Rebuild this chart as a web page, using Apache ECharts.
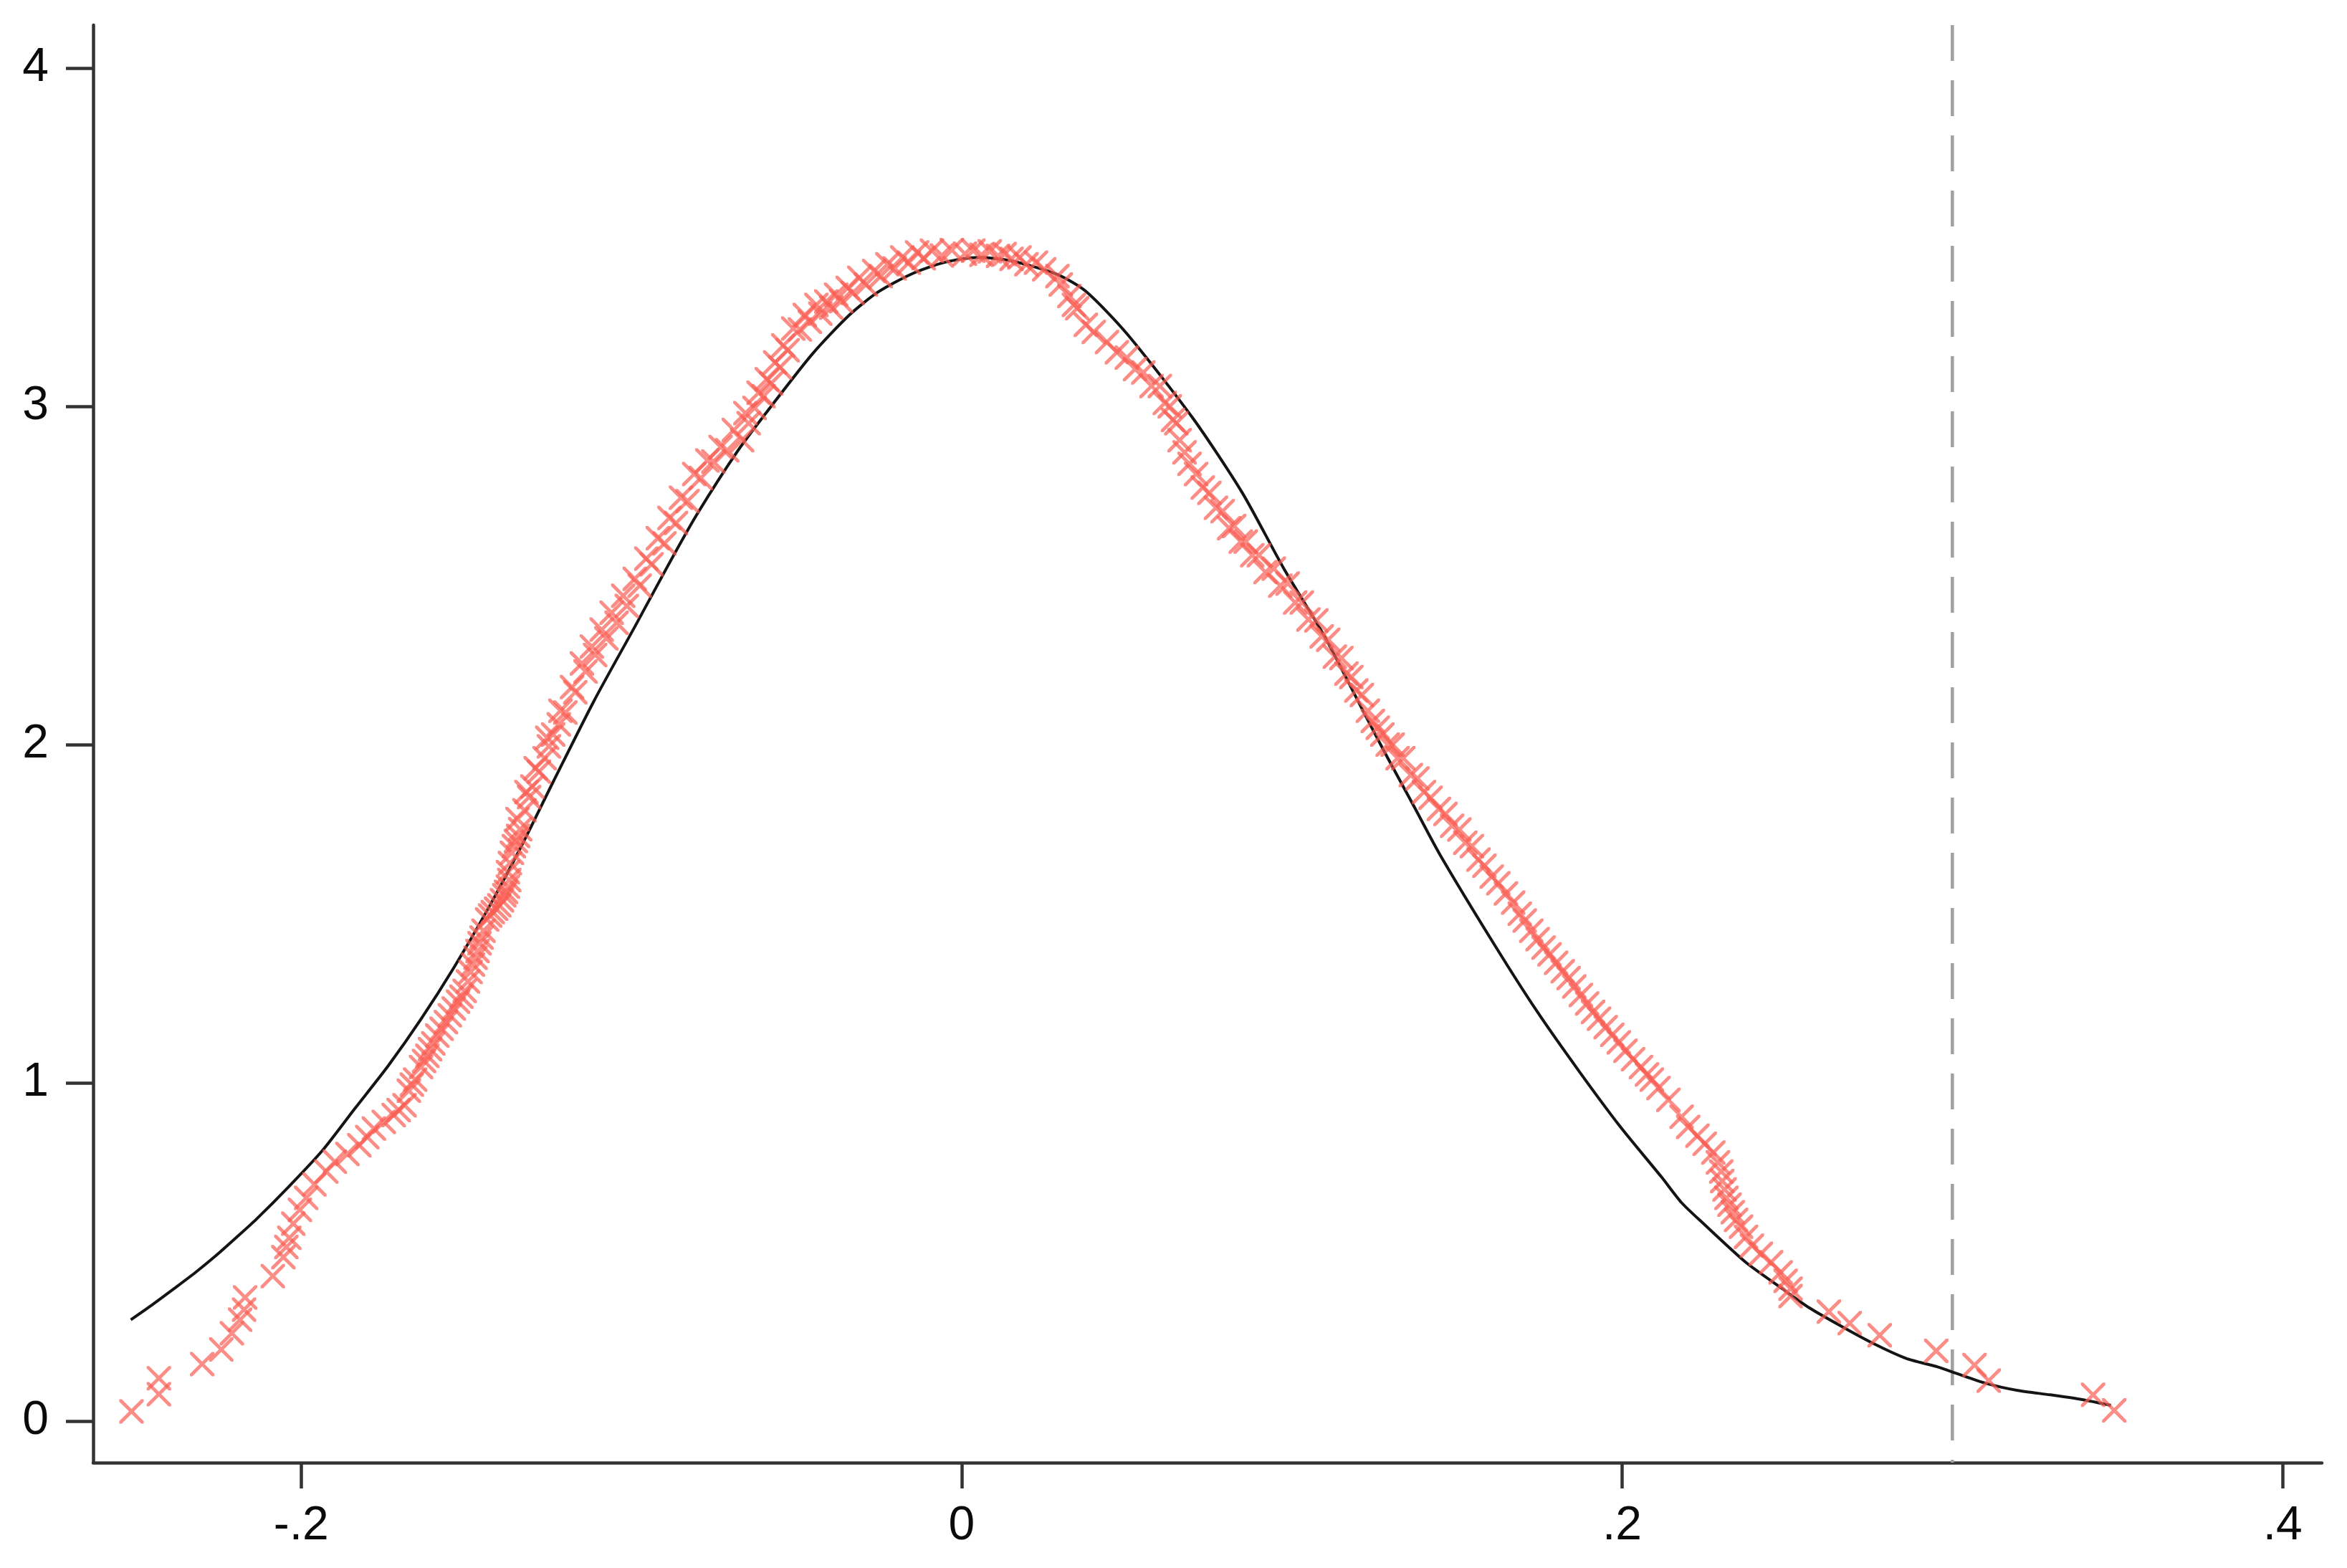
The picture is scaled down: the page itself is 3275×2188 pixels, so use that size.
<!DOCTYPE html>
<html><head><meta charset="utf-8">
<script src="https://cdn.jsdelivr.net/npm/echarts@6/dist/echarts.min.js"></script>
<style>html,body{margin:0;padding:0;background:#fff}#c{width:3275px;height:2188px}</style>
</head><body><div id="c"></div>
<script>
// ---- data ----
const xTicks = [-0.2, 0, 0.2, 0.4];
const yTicks = [0, 1, 2, 3, 4];
const refLineX = 0.3;

// black density curve
const curveX = [-0.2516,-0.245,-0.2385,-0.232,-0.226,-0.22,-0.2136,-0.2036,-0.1936,-0.1837,-0.1737,-0.1637,-0.1537,-0.1437,-0.1337,-0.1237,-0.1113,-0.0989,-0.0889,-0.0802,-0.0677,-0.0577,-0.0452,-0.034,-0.0253,-0.015,-0.005,0.005,0.015,0.0289,0.0376,0.05,0.07,0.085,0.0974,0.11,0.121,0.128,0.137,0.145,0.162,0.1744,0.187,0.1994,0.2119,0.218,0.2243,0.2374,0.248,0.2567,0.2665,0.2762,0.2859,0.2957,0.301,0.3102,0.3198,0.3296,0.3393,0.348];
const curveY = [0.300,0.345,0.392,0.440,0.488,0.540,0.597,0.695,0.800,0.925,1.050,1.189,1.342,1.510,1.693,1.890,2.130,2.350,2.530,2.680,2.870,3.000,3.155,3.270,3.338,3.392,3.426,3.440,3.430,3.390,3.340,3.215,2.965,2.744,2.523,2.318,2.110,1.979,1.817,1.672,1.398,1.209,1.034,0.871,0.722,0.646,0.587,0.470,0.395,0.335,0.280,0.229,0.186,0.160,0.142,0.112,0.091,0.078,0.064,0.047];

// red "x" markers
const markX = [-0.2514,-0.2431,-0.2431,-0.2300,-0.2242,-0.2210,-0.2185,-0.2173,-0.2170,-0.2086,-0.2054,-0.2045,-0.2036,-0.2024,-0.2004,-0.1985,-0.1924,-0.1898,-0.1824,-0.1780,-0.1720,-0.1687,-0.1674,-0.1655,-0.1637,-0.1618,-0.1600,-0.1575,-0.1550,-0.1525,-0.1505,-0.1487,-0.1472,-0.1460,-0.1448,-0.1437,-0.1420,-0.1400,-0.1385,-0.1374,-0.1374,-0.1362,-0.1350,-0.1337,-0.1324,-0.1310,-0.1300,-0.1280,-0.1263,-0.1250,-0.1237,-0.1220,-0.1200,-0.1170,-0.1139,-0.1110,-0.1076,-0.1045,-0.1014,-0.0975,-0.0939,-0.0900,-0.0865,-0.0830,-0.0790,-0.0752,-0.0710,-0.0665,-0.0645,-0.0627,-0.0600,-0.0577,-0.0550,-0.0527,-0.0490,-0.0460,-0.0428,-0.0395,-0.0365,-0.0330,-0.0290,-0.0245,-0.0203,-0.0160,-0.0115,-0.0060,0.0010,0.0060,0.0110,0.0151,0.0196,0.0250,0.0290,0.0326,0.0350,0.0376,0.0440,0.0500,0.0550,0.0600,0.0630,0.0650,0.0675,0.0710,0.0750,0.0790,0.0825,0.0860,0.0900,0.0945,0.0987,0.1030,0.1074,0.1110,0.1150,0.1180,0.1212,0.1245,0.1274,0.1305,0.1337,0.1380,0.1420,0.1465,0.1507,0.1545,0.1583,0.1625,0.1670,0.1705,0.1744,0.1780,0.1820,0.1855,0.1894,0.1930,0.1970,0.2010,0.2057,0.2090,0.2110,0.2140,0.2180,0.2200,0.2228,0.2250,0.2276,0.2290,0.2300,0.2303,0.2310,0.2316,0.2325,0.2335,0.2345,0.2360,0.2375,0.2393,0.2420,0.2451,0.2480,0.2495,0.2510,0.2510,0.2626,0.2689,0.2780,0.2951,0.3067,0.3110,0.3426,0.3490,
  -0.1345,-0.1318,-0.1290,-0.1255,-0.1215,-0.1180,-0.1150,-0.1120,-0.1090,-0.1060,-0.1025,-0.0990,-0.0955,-0.0920,-0.0885,-0.0850,-0.0810,-0.0770,-0.0730,-0.0690,-0.0655,-0.0615,-0.0590,-0.0565,-0.0540,-0.0510,-0.0475,-0.0440,-0.0410,-0.0380,-0.0345,-0.0310,-0.0265,-0.0225,-0.0180,-0.0135,-0.0090,-0.0030,0.0035,0.0085,0.0130,0.0175,0.0225,
  0.0300,0.0340,0.0400,0.0470,0.0525,0.0575,0.0615,0.0640,0.0660,0.0690,0.0730,0.0770,0.0810,0.0845,0.0880,0.0920,0.0965,0.1010,0.1050,0.1090,0.1130,0.1165,0.1195,0.1230,0.1260,0.1290,0.1320,0.1360,0.1400,0.1445,0.1485,0.1525,0.1565,0.1605,0.1648,0.1690,0.1725,0.1762,0.1800,0.1838,0.1875,0.1912,0.1950,0.1990,0.2033,0.2075,
  -0.1960,-0.1860,-0.1800,-0.1750,-0.1705,-0.1665,-0.1628,-0.1610,-0.1588,-0.1562,-0.1538,-0.1515,-0.1495,-0.1480,-0.1466,-0.1454,-0.1428,-0.1410,-0.1392,-0.1380,-0.1370,-0.1368,-0.1356,-0.1343];
const markY = [0.029,0.080,0.127,0.169,0.212,0.260,0.300,0.330,0.366,0.429,0.485,0.515,0.542,0.584,0.625,0.660,0.738,0.767,0.816,0.865,0.905,0.934,0.977,1.010,1.047,1.080,1.117,1.160,1.200,1.240,1.272,1.328,1.370,1.413,1.450,1.483,1.505,1.525,1.555,1.580,1.623,1.680,1.715,1.750,1.806,1.845,1.876,1.920,1.960,1.995,2.030,2.060,2.095,2.155,2.216,2.265,2.314,2.360,2.410,2.470,2.533,2.595,2.655,2.720,2.788,2.837,2.870,2.900,2.950,2.995,3.030,3.068,3.115,3.166,3.227,3.250,3.274,3.292,3.311,3.335,3.360,3.385,3.408,3.425,3.438,3.446,3.451,3.448,3.445,3.436,3.420,3.405,3.385,3.326,3.290,3.241,3.190,3.144,3.100,3.060,3.000,2.950,2.864,2.800,2.744,2.690,2.646,2.600,2.560,2.520,2.476,2.420,2.367,2.310,2.256,2.200,2.147,2.070,2.030,2.000,1.960,1.900,1.843,1.795,1.749,1.700,1.642,1.590,1.533,1.480,1.425,1.380,1.330,1.285,1.235,1.190,1.142,1.095,1.047,1.010,0.985,0.950,0.900,0.870,0.844,0.820,0.794,0.765,0.738,0.710,0.685,0.660,0.640,0.618,0.595,0.575,0.545,0.519,0.495,0.470,0.440,0.415,0.392,0.370,0.324,0.290,0.254,0.208,0.166,0.120,0.078,0.032,
  1.780,1.860,1.930,2.020,2.100,2.170,2.240,2.290,2.340,2.390,2.440,2.490,2.550,2.610,2.670,2.730,2.800,2.840,2.880,2.930,2.980,3.040,3.080,3.130,3.180,3.230,3.270,3.300,3.310,3.330,3.350,3.380,3.400,3.420,3.440,3.455,3.460,3.462,3.460,3.458,3.450,3.440,3.425,
  3.360,3.300,3.220,3.160,3.110,3.060,3.010,2.960,2.900,2.830,2.760,2.700,2.640,2.600,2.560,2.510,2.470,2.420,2.370,2.320,2.260,2.210,2.160,2.100,2.050,2.000,1.960,1.910,1.860,1.810,1.760,1.710,1.660,1.610,1.560,1.500,1.450,1.400,1.355,1.310,1.260,1.210,1.165,1.120,1.070,1.025,
  0.700,0.790,0.840,0.885,0.920,0.995,1.065,1.100,1.140,1.180,1.220,1.255,1.300,1.350,1.390,1.430,1.495,1.515,1.540,1.565,1.600,1.650,1.700,1.730];

// axis extents
const xMin = -0.2630, xMax = 0.4119;
const yMin = -0.1225, yMax = 4.127;

// ---- chart ----
const zip = (a, b) => a.slice(0, Math.min(a.length, b.length)).map((v, i) => [v, b[i]]);
const FONT = '"Liberation Sans", Arial, Helvetica, sans-serif';
const axisCol = '#333333';
const fmtX = v => {
  if (Math.abs(v) < 1e-9) return '0';
  const s = String(Math.round(Math.abs(v) * 10) / 10).replace(/^0/, '');
  return (v < 0 ? '-' : '') + s;
};
const xShape = 'path://M0,0L10,0L50,40L90,0L100,0L100,10L60,50L100,90L100,100L90,100L50,60L10,100L0,100L0,90L40,50L0,10Z';

const chart = echarts.init(document.getElementById('c'), null, {renderer: 'canvas'});
chart.setOption({
  animation: false,
  backgroundColor: '#ffffff',
  grid: {left: 130, right: 35, top: 35, bottom: 147, containLabel: false},
  xAxis: {
    type: 'value', min: xMin, max: xMax,
    axisLine: {show: true, onZero: false, lineStyle: {color: axisCol, width: 4.5}},
    axisTick: {show: true, inside: false, length: 36, customValues: xTicks, lineStyle: {color: axisCol, width: 4.5}},
    axisLabel: {show: true, customValues: xTicks, formatter: fmtX, fontSize: 66, fontFamily: FONT, color: '#0a0a0a', margin: 56},
    splitLine: {show: false}
  },
  yAxis: {
    type: 'value', min: yMin, max: yMax,
    axisLine: {show: true, onZero: false, lineStyle: {color: axisCol, width: 4.5}},
    axisTick: {show: true, inside: false, length: 38, customValues: yTicks, lineStyle: {color: axisCol, width: 4.5}},
    axisLabel: {show: true, customValues: yTicks, formatter: v => String(Math.round(v)), fontSize: 66, fontFamily: FONT, color: '#0a0a0a', margin: 62},
    splitLine: {show: false}
  },
  series: [
    {
      type: 'line', data: [[refLineX, yMax], [refLineX, yMin]],
      showSymbol: false, silent: true, z: 1,
      lineStyle: {color: '#a0a0a0', width: 4.5, type: [50, 27]}
    },
    {
      type: 'line', data: zip(curveX, curveY),
      showSymbol: false, smooth: 0.25, silent: true, z: 2,
      lineStyle: {color: '#141414', width: 4}
    },
    {
      type: 'scatter', data: zip(markX, markY),
      symbol: xShape, symbolSize: 34, silent: true, z: 3,
      itemStyle: {color: 'rgba(250,92,82,0.88)'}
    }
  ]
});
</script>
</body></html>
